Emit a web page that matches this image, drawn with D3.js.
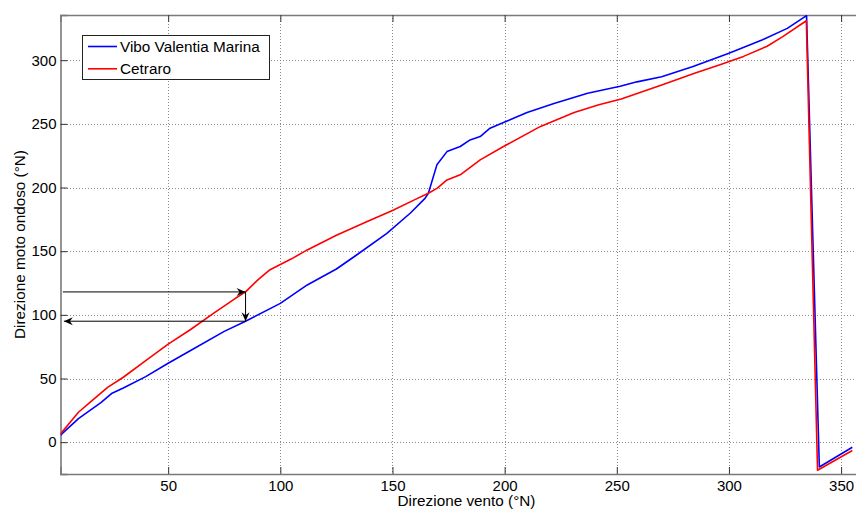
<!DOCTYPE html>
<html>
<head>
<meta charset="utf-8">
<script src="https://cdn.jsdelivr.net/npm/d3@7"></script>
<style>
  html, body { margin: 0; padding: 0; background: #fff; }
  svg { display: block; font-family: "Liberation Sans", Arial, sans-serif; }
</style>
</head>
<body>
<svg id="chart" width="856" height="510"></svg>
<script>
// Wind direction (°N) against wave direction (°N) for two stations
const viboX = [2, 10, 20, 25, 30, 40, 50, 60, 75, 84.5, 100, 112, 125, 134, 147.5, 158, 164.5, 166, 169.8, 174.3, 180.2, 184.6, 189.1, 193.5, 199.5, 210, 222, 237, 251.5, 259, 270, 284, 300, 315, 326, 334.6, 340.3, 355];
const viboY = [5.5, 18.5, 31, 38.5, 42.5, 51.5, 62, 72, 87, 95, 109, 123.5, 136, 147, 164, 180, 191.5, 195.5, 217.8, 228.2, 232.2, 237.4, 240, 246.6, 251, 259, 266, 274, 279.5, 283, 287, 295, 305.5, 316, 325, 335, -19.5, -4];

const cetraroX = [2, 10, 15, 23, 30, 40, 50, 60, 70, 80, 84.5, 90, 95, 105, 112, 125, 139, 150, 160, 166, 170, 174.3, 180.2, 189.1, 199.5, 216, 231, 242, 252, 270, 285, 296, 306.5, 317, 324, 334.5, 339.5, 355];
const cetraroY = [6.5, 23.5, 31, 43, 51, 64, 77, 88.5, 101, 113, 118, 127.5, 135, 144, 151, 162.5, 173.5, 182, 190.5, 195.5, 199.5, 206, 210, 221.7, 232.2, 248, 259, 265, 269.5, 280.5, 290, 296.5, 303, 311, 318.5, 331, -22, -6.5];

const seriesNames = ["Vibo Valentia Marina", "Cetraro"];
const seriesColors = ["#0000ff", "#ff0000"];

const xTicks = [50, 100, 150, 200, 250, 300, 350];
const yTicks = [0, 50, 100, 150, 200, 250, 300];

// Worked example: wind at 84.5°N
const exampleWind = 84.5;
const exampleCetraro = 118;
const exampleVibo = 95;
const exampleAxisX = 3.5;

const svg = d3.select("#chart");
const plotLeft = 60.5, plotRight = 872.5, plotTop = 15, plotBottom = 474;

const x = d3.scaleLinear().domain([2, 364]).range([plotLeft, plotRight]);
const y = d3.scaleLinear().domain([-25, 335.5]).range([plotBottom, plotTop]);

svg.append("defs").append("clipPath").attr("id", "plotclip")
  .append("rect").attr("x", plotLeft).attr("y", plotTop)
  .attr("width", plotRight - plotLeft).attr("height", plotBottom - plotTop);

// grid
const grid = svg.append("g").attr("stroke", "#8a8a8a").attr("stroke-width", 1)
  .attr("stroke-dasharray", "1,2").attr("shape-rendering", "crispEdges");
grid.selectAll("line.gx").data(xTicks).join("line")
  .attr("x1", d => Math.round(x(d)) + 0.5).attr("x2", d => Math.round(x(d)) + 0.5)
  .attr("y1", plotTop).attr("y2", plotBottom);
grid.selectAll("line.gy").data(yTicks).join("line")
  .attr("y1", d => Math.round(y(d)) + 0.5).attr("y2", d => Math.round(y(d)) + 0.5)
  .attr("x1", plotLeft).attr("x2", plotRight);

// axes with inward ticks
const tickLen = 7;
const axB = svg.append("g").attr("transform", `translate(0,${plotBottom})`)
  .call(d3.axisBottom(x).tickValues(xTicks).tickSize(-tickLen).tickPadding(6));
const axT = svg.append("g").attr("transform", `translate(0,${plotTop})`)
  .call(d3.axisTop(x).tickValues(xTicks).tickSize(-tickLen).tickFormat(""));
const axL = svg.append("g").attr("transform", `translate(${plotLeft},0)`)
  .call(d3.axisLeft(y).tickValues(yTicks).tickSize(-tickLen).tickPadding(4));
[axB, axT, axL].forEach(a => {
  a.select(".domain").attr("stroke", "#7a7a7a").attr("stroke-width", 1.6);
  a.selectAll(".tick line").attr("stroke", "#333").attr("stroke-width", 1);
  a.selectAll(".tick text").attr("fill", "#000").attr("font-size", 15)
    .attr("font-family", "Liberation Sans, Arial, sans-serif");
});

// curves
const line = d3.line().x(d => x(d[0])).y(d => y(d[1]));
const plot = svg.append("g").attr("clip-path", "url(#plotclip)");
const series = [d3.zip(viboX, viboY), d3.zip(cetraroX, cetraroY)];
series.forEach((pts, i) => {
  plot.append("path").datum(pts).attr("d", line)
    .attr("fill", "none").attr("stroke", seriesColors[i])
    .attr("stroke-width", 1.6).attr("stroke-linejoin", "round");
});

// arrows
function arrow(x1, y1, x2, y2) {
  const g = svg.append("g");
  g.append("line").attr("x1", x1).attr("y1", y1).attr("x2", x2).attr("y2", y2)
    .attr("stroke", "#000").attr("stroke-width", 1);
  const ang = Math.atan2(y2 - y1, x2 - x1) * 180 / Math.PI;
  g.append("path").attr("d", "M0,0 L-9,-4 L-6,0 L-9,4 Z")
    .attr("fill", "#000")
    .attr("transform", `translate(${x2},${y2}) rotate(${ang})`);
}
arrow(x(exampleAxisX) - 1, y(exampleCetraro), x(exampleWind), y(exampleCetraro));
arrow(x(exampleWind), y(exampleCetraro), x(exampleWind), y(exampleVibo));
arrow(x(exampleWind), y(exampleVibo), x(exampleAxisX), y(exampleVibo));

// legend
const lg = svg.append("g");
lg.append("rect").attr("x", 82.5).attr("y", 35.5).attr("width", 187).attr("height", 44)
  .attr("fill", "#fff").attr("stroke", "#222").attr("stroke-width", 1);
seriesNames.forEach((name, i) => {
  const yy = 46.5 + i * 22.3;
  lg.append("line").attr("x1", 88).attr("x2", 117).attr("y1", yy).attr("y2", yy)
    .attr("stroke", seriesColors[i]).attr("stroke-width", 1.6);
  lg.append("text").attr("x", 120).attr("y", yy + 5.5).attr("font-size", 15.3)
    .attr("fill", "#000").text(name);
});

// axis titles
svg.append("text").attr("x", (plotLeft + plotRight) / 2).attr("y", 506)
  .attr("text-anchor", "middle").attr("font-size", 15.3).attr("fill", "#000")
  .text("Direzione vento (°N)");
svg.append("text").attr("transform", `translate(25,${(plotTop + plotBottom) / 2}) rotate(-90)`)
  .attr("text-anchor", "middle").attr("font-size", 15.3).attr("fill", "#000")
  .text("Direzione moto ondoso (°N)");
</script>
</body>
</html>
